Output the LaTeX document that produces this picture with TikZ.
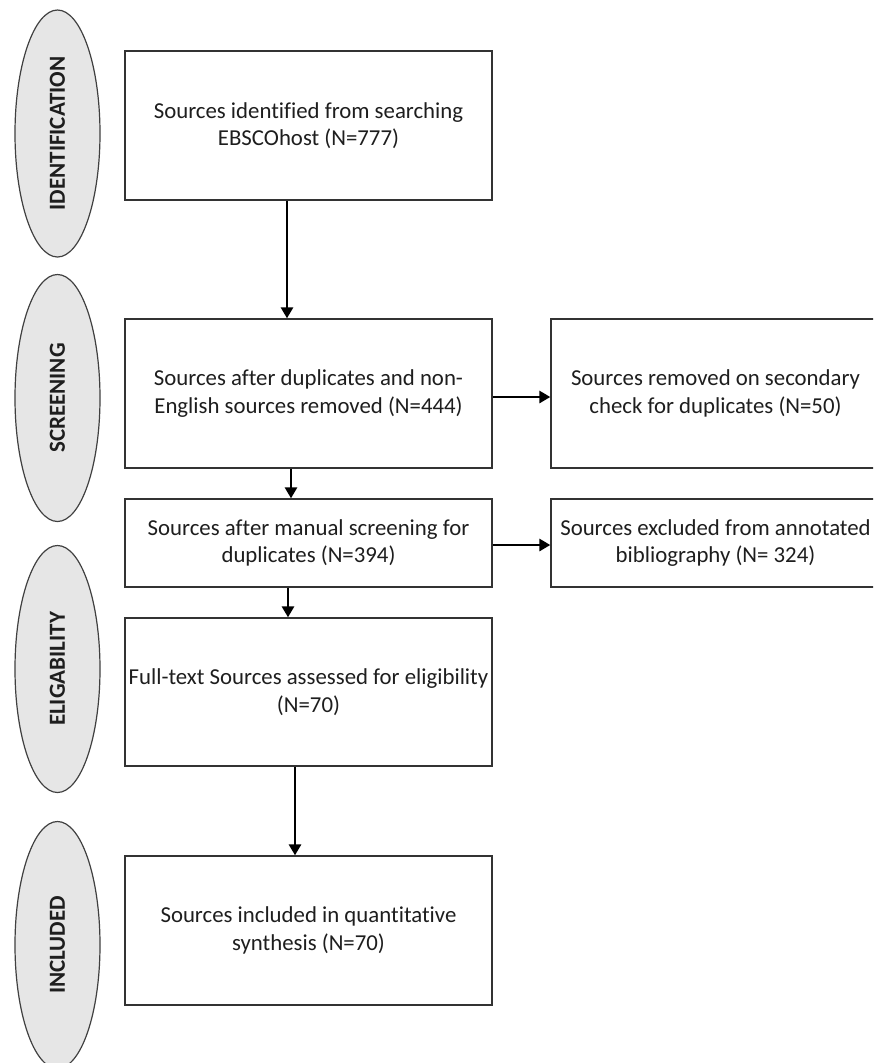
\documentclass[tikz,border=0pt]{standalone}
\usepackage{fontspec}
\setmainfont{Carlito}[Ligatures=NoCommon]
\usetikzlibrary{shapes.geometric,arrows.meta}
\definecolor{phasefill}{HTML}{E6E6E6}
\definecolor{txt}{HTML}{1E1E1E}
\tikzset{
  phase/.style={ellipse, draw=black!75, line width=1.2pt, fill=phasefill, rotate=90,
    minimum width=247, minimum height=85, inner sep=0pt,
    font=\fontsize{23}{27}\selectfont\bfseries, text=txt},
  stepbox/.style={rectangle, draw=black!80, line width=1.3pt, fill=white,
    align=center, inner sep=0pt, text=txt,
    font=\fontsize{22.8}{27.5}\selectfont},
  arr/.style={-{Triangle[length=11,width=12]}, line width=2.8pt, black}
}
\begin{document}
\begin{tikzpicture}[x=1pt,y=-1pt]
\useasboundingbox (0,0) rectangle (873,1063);
\clip (0,0) rectangle (873,1063);
\fill[white] (0,0) rectangle (873,1063);
% phases
\node[phase] (p1) at (57.5,133.5) {IDENTIFICATION};
\node[phase] (p2) at (57.5,398) {SCREENING};
\node[phase] (p3) at (57.5,669) {ELIGABILITY};
\node[phase] (p4) at (57.5,945) {INCLUDED};
% boxes
\node[stepbox, minimum width=367, minimum height=149] (b1) at (308.5,125.5)
  {Sources identified from searching\\EBSCOhost (N=777)};
\node[stepbox, minimum width=367, minimum height=149] (b2) at (308.5,393.5)
  {Sources after duplicates and non-\\English sources removed (N=444)};
\node[stepbox, minimum width=329, minimum height=149] (b3) at (715.5,393.5)
  {Sources removed on secondary\\check for duplicates (N=50)};
\node[stepbox, minimum width=367, minimum height=88] (bm) at (308.5,543)
  {Sources after manual screening for\\duplicates (N=394)};
\node[stepbox, minimum width=329, minimum height=88] (b4) at (715.5,543)
  {Sources excluded from annotated\\bibliography (N= 324)};
\node[stepbox, minimum width=367, minimum height=148] (be) at (308.5,692)
  {Full-text Sources assessed for eligibility\\(N=70)};
\node[stepbox, minimum width=367, minimum height=149] (bi) at (308.5,930.5)
  {Sources included in quantitative\\synthesis (N=70)};
% connectors
\draw[arr] (b1.south -| 287,0) -- (b2.north -| 287,0);
\draw[arr] (b2.east |- 0,397) -- (b3.west |- 0,397);
\draw[arr] (b2.south -| 291,0) -- (bm.north -| 291,0);
\draw[arr] (bm.east |- 0,545) -- (b4.west |- 0,545);
\draw[arr] (bm.south -| 288,0) -- (be.north -| 288,0);
\draw[arr] (be.south -| 295,0) -- (bi.north -| 295,0);
\end{tikzpicture}
\end{document}
